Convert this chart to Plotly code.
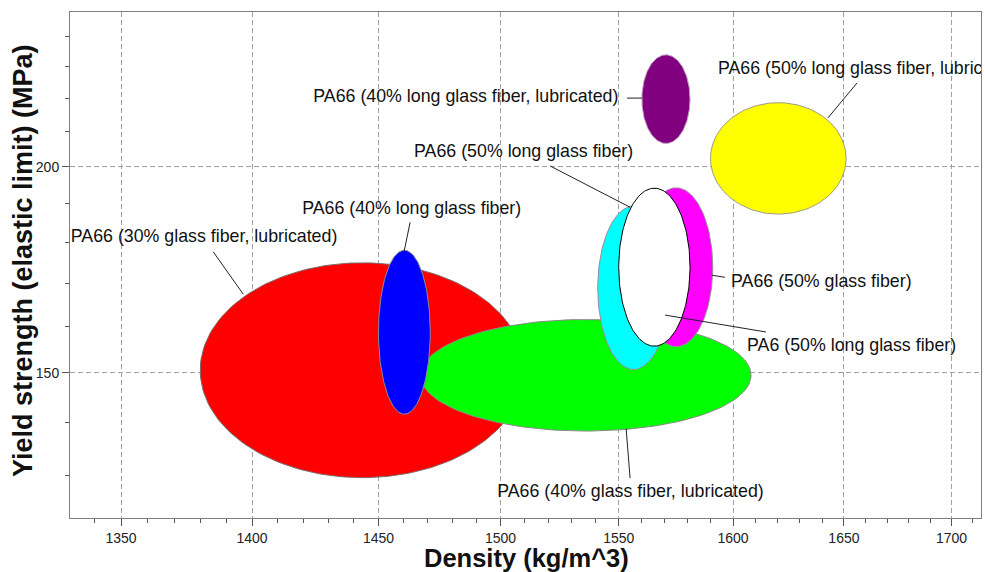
import numpy as np
import plotly.graph_objects as go

# Material property ranges (density in kg/m^3, yield strength in MPa)
materials = [
    "PA66 (30% glass fiber, lubricated)",
    "PA66 (40% glass fiber, lubricated)",
    "PA66 (40% long glass fiber)",
    "PA66 (50% long glass fiber)",
    "PA66 (50% glass fiber)",
    "PA6 (50% long glass fiber)",
    "PA66 (40% long glass fiber, lubricated)",
    "PA66 (50% long glass fiber, lubricated)",
]
density_min = [1380, 1467, 1450, 1541, 1559, 1550, 1560, 1590]
density_max = [1510, 1608, 1471, 1572, 1591, 1581, 1581, 1651]
strength_min = [129.6, 138.3, 141.6, 150.7, 155.6, 155.7, 206.6, 187.2]
strength_max = [174.9, 161.6, 178.0, 189.3, 194.2, 194.1, 233.8, 218.7]
fill_colors = ["#ff0000", "#00ff00", "#0000ff", "#00ffff", "#ff00ff", "#ffffff", "#800080", "#ffff00"]
edge_colors = ["#7a6a6a", "#8a8a8a", "#8a8aa0", "#9a8a9a", "#9a8a9a", "#000000", "#c0a0c0", "#a09a80"]

# Label anchors (left edge of text, vertical middle) and leader lines
label_x = [1331.3, 1498.6, 1419.6, 1464.4, 1599.1, 1606.2, 1424.0, 1593.3]
label_y = [181.1, 127.0, 188.5, 203.9, 170.2, 155.7, 220.4, 229.2]
leader_x = [(1385.0, 1396.6), (1553.2, 1554.9), (1462.8, 1460.4), (1520.8, 1554.9),
            (1590.7, 1596.4), (1570.1, 1614.7), (1553.6, 1560.1), (1656.0, 1642.7)]
leader_y = [(177.6, 167.4), (138.8, 129.5), (185.1, 177.8), (200.2, 189.0),
            (171.9, 171.4), (162.6, 158.8), (220.1, 220.1), (224.8, 214.1)]

x_ticks = [1350, 1400, 1450, 1500, 1550, 1600, 1650, 1700]
x_minor = [v for v in range(1340, 1720, 10) if v not in x_ticks]
y_ticks = [150, 200]
y_minor = [130, 140, 160, 170, 180, 190, 210, 220, 230, 240]
x_range = [1331, 1714]
y_range = [122.5, 248.2]

FONT = "Liberation Sans, Arial, sans-serif"
W, H = 985, 572
M_L, M_R, M_T, M_B = 70, 4, 12, 54

fig = go.Figure()

# Ellipses are drawn in log-log space so they stay elliptical on screen
t = np.linspace(0, 2 * np.pi, 181)
for i in range(len(materials)):
    lx0, lx1 = np.log10(density_min[i]), np.log10(density_max[i])
    ly0, ly1 = np.log10(strength_min[i]), np.log10(strength_max[i])
    cx, cy = (lx0 + lx1) / 2, (ly0 + ly1) / 2
    rx, ry = (lx1 - lx0) / 2, (ly1 - ly0) / 2
    fig.add_trace(go.Scatter(
        x=10 ** (cx + rx * np.cos(t)), y=10 ** (cy + ry * np.sin(t)),
        mode="lines", fill="toself", fillcolor=fill_colors[i],
        line=dict(color=edge_colors[i], width=1),
        hoverinfo="skip", showlegend=False, name=materials[i],
    ))

for i in range(len(materials)):
    fig.add_trace(go.Scatter(
        x=list(leader_x[i]), y=list(leader_y[i]), mode="lines",
        line=dict(color="#222222", width=1), hoverinfo="skip", showlegend=False,
    ))

fig.add_trace(go.Scatter(
    x=label_x, y=label_y, mode="text", text=materials,
    textposition="middle right", cliponaxis=True,
    textfont=dict(family=FONT, size=17.8, color="#111111"),
    hoverinfo="skip", showlegend=False,
))

axis_common = dict(
    type="log", showline=True, linecolor="#808080", linewidth=1, mirror=True,
    ticks="outside", ticklen=7, tickcolor="#555555", tickwidth=1,
    showgrid=True, gridcolor="#a0a0a0", gridwidth=1, griddash="5px,3px",
    zeroline=False, automargin=False,
    tickfont=dict(family=FONT, size=14, color="#222222"),
)

fig.update_xaxes(
    **axis_common,
    range=[np.log10(x_range[0]), np.log10(x_range[1])],
    tickvals=x_ticks, ticktext=[str(v) for v in x_ticks],
    minor=dict(tickvals=x_minor, ticks="outside", ticklen=4, tickcolor="#555555", showgrid=False),
)
fig.update_yaxes(
    **axis_common,
    range=[np.log10(y_range[0]), np.log10(y_range[1])],
    tickvals=y_ticks, ticktext=[str(v) for v in y_ticks],
    minor=dict(tickvals=y_minor, ticks="outside", ticklen=4, tickcolor="#555555", showgrid=False),
)

plot_w = W - M_L - M_R
plot_h = H - M_T - M_B

# Axis titles
fig.add_annotation(
    text="Density (kg/m^3)", xref="paper", yref="paper",
    x=(526 - M_L) / plot_w, y=-(558 - (H - M_B)) / plot_h,
    xanchor="center", yanchor="middle", showarrow=False,
    font=dict(family=FONT, size=25.5, color="#111111", weight="bold"),
)
fig.add_annotation(
    text="Yield strength (elastic limit) (MPa)", xref="paper", yref="paper",
    x=-(M_L - 23) / plot_w, y=(H - M_B - 261) / plot_h,
    xanchor="center", yanchor="middle", textangle=-90, showarrow=False,
    font=dict(family=FONT, size=27, color="#111111", weight="bold"),
)

fig.update_layout(
    width=W, height=H,
    margin=dict(l=M_L, r=M_R, t=M_T, b=M_B),
    paper_bgcolor="white", plot_bgcolor="white",
)

fig.write_html("out.html")
